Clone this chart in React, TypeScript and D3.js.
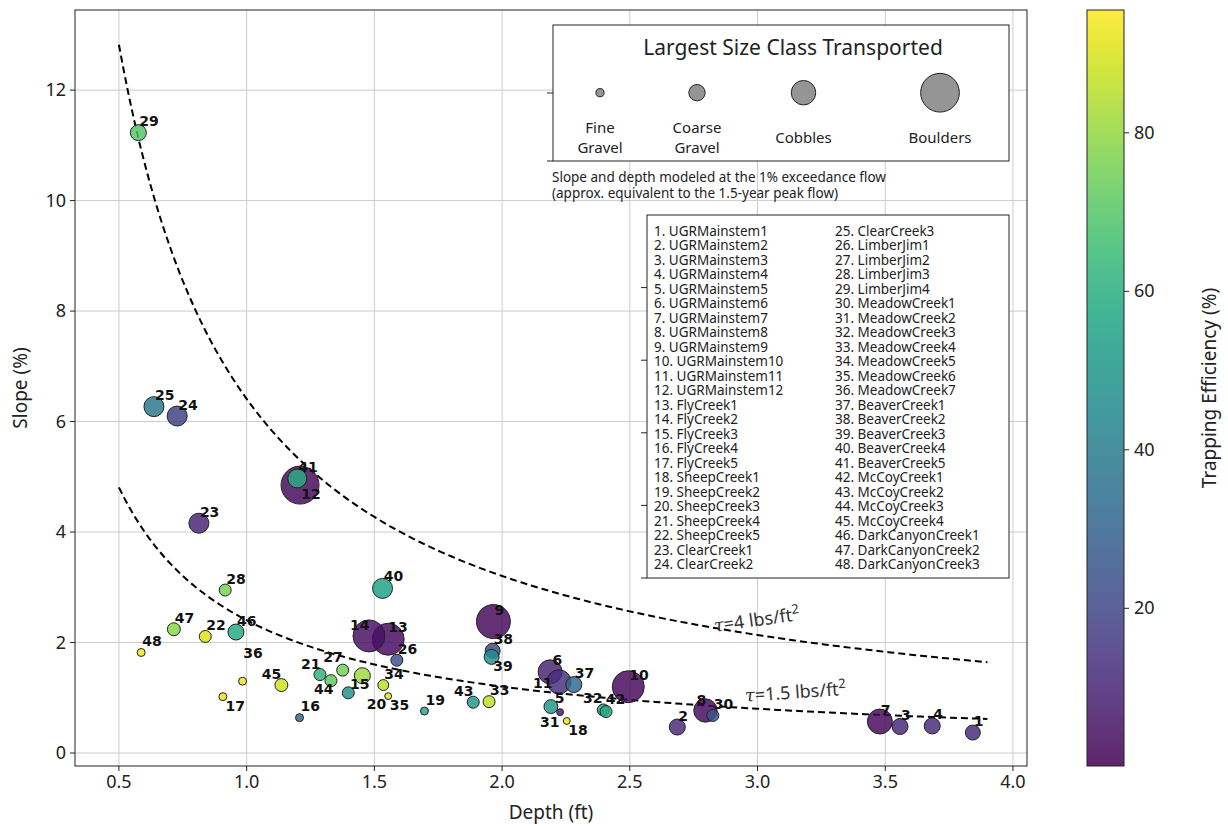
import React, { useRef, useEffect } from "react";
import * as d3 from "d3";

// site number order 1..48
const siteNames = [
  "UGRMainstem1", "UGRMainstem2", "UGRMainstem3", "UGRMainstem4", "UGRMainstem5", "UGRMainstem6",
  "UGRMainstem7", "UGRMainstem8", "UGRMainstem9", "UGRMainstem10", "UGRMainstem11", "UGRMainstem12",
  "FlyCreek1", "FlyCreek2", "FlyCreek3", "FlyCreek4", "FlyCreek5",
  "SheepCreek1", "SheepCreek2", "SheepCreek3", "SheepCreek4", "SheepCreek5",
  "ClearCreek1", "ClearCreek2", "ClearCreek3",
  "LimberJim1", "LimberJim2", "LimberJim3", "LimberJim4",
  "MeadowCreek1", "MeadowCreek2", "MeadowCreek3", "MeadowCreek4", "MeadowCreek5", "MeadowCreek6", "MeadowCreek7",
  "BeaverCreek1", "BeaverCreek2", "BeaverCreek3", "BeaverCreek4", "BeaverCreek5",
  "McCoyCreek1", "McCoyCreek2", "McCoyCreek3", "McCoyCreek4",
  "DarkCanyonCreek1", "DarkCanyonCreek2", "DarkCanyonCreek3",
];

const depth = [
  3.843, 2.686, 3.558, 3.684, 2.191, 2.188, 3.479, 2.796, 1.966, 2.494, 2.223, 1.209,
  1.554, 1.479, 1.398, 1.207, 0.907, 2.253, 1.696, 1.453, 1.287, 0.838, 0.813, 0.728,
  0.637, 1.588, 1.376, 0.916, 0.576, 2.825, 2.227, 2.396, 1.949, 1.535, 1.554, 0.984,
  2.281, 1.963, 1.959, 1.532, 1.198, 2.407, 1.887, 1.33, 1.136, 0.958, 0.715, 0.587,
];

const slope = [
  0.37, 0.47, 0.48, 0.49, 0.84, 1.47, 0.57, 0.77, 2.38, 1.2, 1.29, 4.85,
  2.06, 2.12, 1.09, 0.64, 1.02, 0.58, 0.76, 1.4, 1.42, 2.11, 4.16, 6.1,
  6.27, 1.68, 1.5, 2.95, 11.23, 0.68, 0.74, 0.78, 0.93, 1.23, 1.03, 1.3,
  1.24, 1.85, 1.74, 2.98, 4.97, 0.75, 0.92, 1.31, 1.23, 2.19, 2.24, 1.82,
];

const trapEff = [
  12, 12, 11, 12, 52, 10, 2, 3, 2, 2, 13, 2,
  3, 4, 48, 32, 92, 93, 57, 82, 62, 90, 10, 18,
  38, 25, 75, 76, 70, 25, 8, 55, 86, 85, 90, 92,
  33, 20, 47, 55, 60, 58, 52, 72, 88, 58, 78, 93,
];

// relative transported grain size (marker area units)
const grainSize = [
  14, 16, 16, 16, 12, 36, 39, 34, 72, 64, 36, 90,
  64, 64, 9, 4, 4, 3, 4, 16, 9, 9, 25, 25,
  25, 9, 9, 9, 16, 9, 3, 9, 9, 7.5, 3, 4,
  16, 14, 14, 25, 22.5, 9, 9, 9, 10.5, 16, 10.5, 4,
];

const sizeClasses = [
  { lines: ["Fine", "Gravel"], value: 4 },
  { lines: ["Coarse", "Gravel"], value: 16 },
  { lines: ["Cobbles"], value: 36 },
  { lines: ["Boulders"], value: 90 },
];

const tauValues = [4, 1.5]; // lbs/ft2
const gammaWater = 62.4; // lbs/ft3
const curveDepths = d3.range(0.5, 3.9001, 0.02);

const xTicks = [0.5, 1.0, 1.5, 2.0, 2.5, 3.0, 3.5, 4.0];
const yTicks = [0, 2, 4, 6, 8, 10, 12];
const cbarTicks = [20, 40, 60, 80];

// label placement tweaks (pixel offsets of text start / baseline)
const labelOffsets: Record<number, [number, number]> = {
  12: [1.3, 14.3], 14: [-19, -6], 13: [0, -7], 36: [0.6, -23.3], 17: [2.7, 14.3],
  45: [-19.6, -6.3], 21: [-19, -5.4], 27: [-19.4, -8], 44: [-17, 13.3], 15: [1.7, -3.7],
  20: [4.4, 33.6], 35: [1.7, 14], 39: [1.6, 14.3], 43: [-19.3, -6], 11: [-26, 6],
  5: [4, -3.4], 31: [-20, 14.4], 18: [1.6, 14.3], 32: [-20.3, -6.7], 42: [-0.3, -7.7],
  8: [-9, -5.7], 6: [2.5, -6.4], 40: [1.3, -7.6],
};

const FONT = "'Noto Sans', 'Open Sans', sans-serif";

function App() {
  const svgRef = useRef<SVGSVGElement>(null);

  useEffect(() => {
    const svg = d3.select(svgRef.current);
    svg.selectAll("*").remove();

    const left = 75, right = 1027, top = 10, bottom = 766;
    const x = d3.scaleLinear().domain([0.328, 4.055]).range([left, right]);
    const y = d3.scaleLinear().domain([-0.235, 13.45]).range([bottom, top]);
    const r = d3.scaleSqrt().domain([0, 100]).range([0, 20]);
    const color = (v: number) => d3.interpolateViridis((v - 0.1) / (95.5 - 0.1));

    svg.append("rect").attr("width", 1228).attr("height", 826).attr("fill", "white");

    // grid
    const grid = svg.append("g").attr("stroke", "#cccccc").attr("stroke-width", 1);
    xTicks.forEach((t) => {
      grid.append("line").attr("x1", x(t)).attr("x2", x(t)).attr("y1", top).attr("y2", bottom);
    });
    yTicks.forEach((t) => {
      grid.append("line").attr("x1", left).attr("x2", right).attr("y1", y(t)).attr("y2", y(t));
    });

    // shear stress curves S = tau / (gamma * D)
    tauValues.forEach((tau) => {
      const vals = curveDepths.map((dd) => ({ dd, s: (tau / (gammaWater * dd)) * 100 }));
      svg
        .append("path")
        .attr("d", d3.line<any>().x((p) => x(p.dd)).y((p) => y(p.s))(vals))
        .attr("fill", "none")
        .attr("stroke", "black")
        .attr("stroke-width", 2)
        .attr("stroke-dasharray", "7,4");
    });

    const tauLabel = (tau: number, dx: number, sy: number, angle: number) => {
      const t = svg
        .append("text")
        .attr("transform", `translate(${x(dx)},${y(sy)}) rotate(${angle})`)
        .attr("text-anchor", "middle")
        .attr("font-family", FONT)
        .attr("font-size", 18)
        .attr("fill", "#333");
      t.append("tspan").attr("font-family", "'DejaVu Serif', serif").attr("font-style", "italic").text("τ");
      t.append("tspan").text(`=${tau} lbs/ft`);
      t.append("tspan").attr("font-size", 13).attr("dy", -7).text("2");
    };
    tauLabel(4, 3.0, 2.3, -8);
    tauLabel(1.5, 3.15, 0.99, -4);

    // points
    const pts = svg.append("g");
    depth.forEach((dd, i) => {
      pts
        .append("circle")
        .attr("cx", x(dd))
        .attr("cy", y(slope[i]))
        .attr("r", r(grainSize[i]))
        .attr("fill", color(trapEff[i]))
        .attr("fill-opacity", 0.84)
        .attr("stroke", "#222")
        .attr("stroke-width", 1);
    });

    // point labels
    depth.forEach((dd, i) => {
      const n = i + 1;
      const off = labelOffsets[n] || [1, -6.5];
      svg
        .append("text")
        .attr("x", x(dd) + off[0])
        .attr("y", y(slope[i]) + off[1])
        .attr("font-family", "'DejaVu Sans', sans-serif")
        .attr("font-weight", "bold")
        .attr("font-size", 14)
        .attr("fill", "#111")
        .text(n);
    });

    // axes frame
    svg
      .append("rect")
      .attr("x", left)
      .attr("y", top)
      .attr("width", right - left)
      .attr("height", bottom - top)
      .attr("fill", "none")
      .attr("stroke", "#222")
      .attr("stroke-width", 1);

    const ax = svg.append("g").attr("font-family", FONT).attr("font-size", 18).attr("fill", "#222");
    xTicks.forEach((t) => {
      ax.append("line").attr("x1", x(t)).attr("x2", x(t)).attr("y1", bottom).attr("y2", bottom + 5).attr("stroke", "#222");
      ax.append("text").attr("x", x(t)).attr("y", bottom + 22).attr("text-anchor", "middle").text(t.toFixed(1));
    });
    yTicks.forEach((t) => {
      ax.append("line").attr("x1", left - 5).attr("x2", left).attr("y1", y(t)).attr("y2", y(t)).attr("stroke", "#222");
      ax.append("text").attr("x", left - 9).attr("y", y(t) + 6).attr("text-anchor", "end").text(t);
    });
    ax.append("text").attr("x", (left + right) / 2).attr("y", 819).attr("text-anchor", "middle").attr("font-size", 19).text("Depth (ft)");
    ax.append("text")
      .attr("transform", `translate(27,${(top + bottom) / 2}) rotate(-90)`)
      .attr("text-anchor", "middle")
      .attr("font-size", 19)
      .text("Slope (%)");

    // colorbar
    const cb = { x: 1087, w: 37 };
    const cScale = d3.scaleLinear().domain([0.1, 95.5]).range([bottom, top]);
    const grad = svg
      .append("defs")
      .append("linearGradient")
      .attr("id", "vir")
      .attr("x1", 0).attr("x2", 0).attr("y1", 1).attr("y2", 0);
    d3.range(0, 1.0001, 0.05).forEach((f) => {
      grad.append("stop").attr("offset", f).attr("stop-color", d3.interpolateViridis(f));
    });
    svg.append("rect").attr("x", cb.x).attr("y", top).attr("width", cb.w).attr("height", bottom - top).attr("fill", "url(#vir)").attr("fill-opacity", 0.86);
    svg.append("rect").attr("x", cb.x).attr("y", top).attr("width", cb.w).attr("height", bottom - top).attr("fill", "none").attr("stroke", "#222");
    cbarTicks.forEach((t) => {
      ax.append("line").attr("x1", cb.x + cb.w).attr("x2", cb.x + cb.w + 5).attr("y1", cScale(t)).attr("y2", cScale(t)).attr("stroke", "#222");
      ax.append("text").attr("x", cb.x + cb.w + 10).attr("y", cScale(t) + 6).text(t);
    });
    ax.append("text")
      .attr("transform", `translate(1216,${(top + bottom) / 2}) rotate(-90)`)
      .attr("text-anchor", "middle")
      .attr("font-size", 19)
      .text("Trapping Efficiency (%)");

    // size legend box
    const lb = { x: 553, y: 25, w: 456, h: 136 };
    const lg = svg.append("g").attr("font-family", FONT).attr("fill", "#222");
    lg.append("rect").attr("x", lb.x).attr("y", lb.y).attr("width", lb.w).attr("height", lb.h).attr("fill", "white").attr("stroke", "#222");
    [0, 0.5].forEach((f) => {
      lg.append("line").attr("x1", lb.x - 6).attr("x2", lb.x).attr("y1", lb.y + lb.h * (1 - f)).attr("y2", lb.y + lb.h * (1 - f)).attr("stroke", "#222");
    });
    lg.append("text").attr("x", 793).attr("y", 55).attr("text-anchor", "middle").attr("font-size", 21).text("Largest Size Class Transported");
    const legX = [600, 697, 803.5, 940];
    sizeClasses.forEach((c, i) => {
      lg.append("circle").attr("cx", legX[i]).attr("cy", 92.7).attr("r", r(c.value) * 1.02).attr("fill", "#8a8a8a").attr("fill-opacity", 0.9).attr("stroke", "#222").attr("stroke-width", 1);
      const y0 = c.lines.length === 2 ? 133.3 : 142.7;
      c.lines.forEach((ln, k) => {
        lg.append("text").attr("x", legX[i]).attr("y", y0 + k * 20).attr("text-anchor", "middle").attr("font-size", 15).text(ln);
      });
    });
    lg.append("text").attr("x", 552).attr("y", 182).attr("font-size", 13.5).text("Slope and depth modeled at the 1% exceedance flow");
    lg.append("text").attr("x", 552).attr("y", 198).attr("font-size", 13.5).text("(approx. equivalent to the 1.5-year peak flow)");

    // site list box
    const sb = { x: 647, y: 215, w: 362, h: 363 };
    lg.append("rect").attr("x", sb.x).attr("y", sb.y).attr("width", sb.w).attr("height", sb.h).attr("fill", "white").attr("stroke", "#222");
    [0, 0.2, 0.4, 0.6, 0.8].forEach((f) => {
      lg.append("line").attr("x1", sb.x - 6).attr("x2", sb.x).attr("y1", sb.y + sb.h * (1 - f)).attr("y2", sb.y + sb.h * (1 - f)).attr("stroke", "#222");
    });
    siteNames.forEach((nm, i) => {
      const col = i < 24 ? 0 : 1;
      const row = i % 24;
      lg.append("text")
        .attr("x", col === 0 ? 654 : 835)
        .attr("y", 236 + row * 14.49)
        .attr("font-size", 13.5)
        .text(`${i + 1}. ${nm}`);
    });
  }, []);

  return (
    <div style={{ position: "absolute", left: 0, top: 0 }}>
      <svg ref={svgRef} width={1228} height={826} style={{ display: "block" }}></svg>
    </div>
  );
}

export default App;
